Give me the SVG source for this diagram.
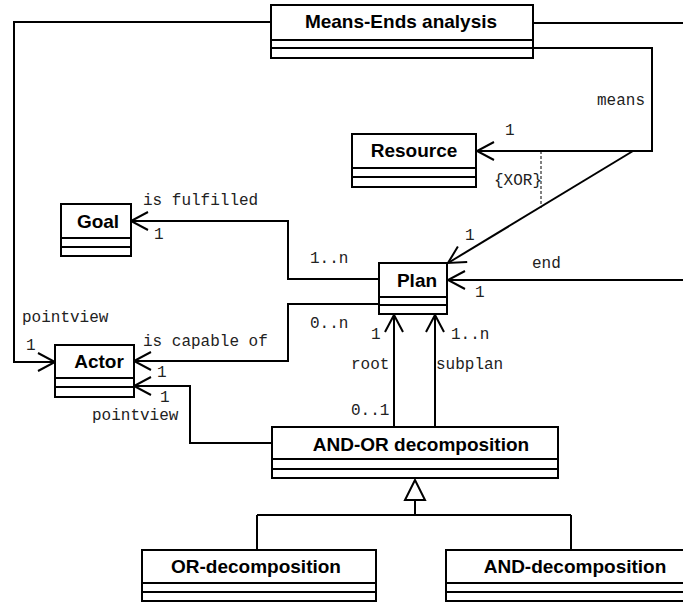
<svg xmlns="http://www.w3.org/2000/svg" width="683" height="602" viewBox="0 0 683 602">
<style>
.box{fill:#fff;stroke:#000;stroke-width:2}
.sep{stroke:#000;stroke-width:2}
.name{font-family:"Liberation Sans",Arial,sans-serif;font-weight:bold;font-size:19px;fill:#000;text-anchor:middle}
.lbl{font-family:"Liberation Mono","Courier New",monospace;font-size:16px;fill:#222}
.conn{fill:none;stroke:#000;stroke-width:2}
.arr{marker-end:url(#open)}
.dash{fill:none;stroke:#000;stroke-width:1;stroke-dasharray:3,2}
</style>
<defs>
<marker id="open" viewBox="-20 -12 24 24" refX="0" refY="0" markerWidth="24" markerHeight="24" orient="auto" markerUnits="userSpaceOnUse">
<path d="M-17,-9 L0,0 L-17,9" fill="none" stroke="#000" stroke-width="2"/>
</marker>
</defs>
<g id="connectors">
<path class="conn arr" d="M271,22 H14 V362 H55"/>
<path class="conn" d="M533,23 H683"/>
<path class="conn arr" d="M533,48 H652 V151 H477"/>
<path class="conn arr" d="M633,151 L448,263"/>
<path class="dash" d="M541,151 V208"/>
<path class="conn arr" d="M683,280 H448"/>
<path class="conn arr" d="M379,279 H288 V221 H131"/>
<path class="conn arr" d="M379,304 H288 V361 H134"/>
<path class="conn arr" d="M394,427 V315"/>
<path class="conn arr" d="M435,427 V315"/>
<path class="conn arr" d="M272,443 H190 V386 H134"/>
<path class="conn" d="M415,500 V515 M257,515 H571 M257,515 V550 M571,515 V550"/>
<polygon points="415,480 405,500 425,500" fill="#fff" stroke="#000" stroke-width="2"/>
<text class="lbl" x="597" y="105">means</text>
<text class="lbl" x="505" y="135">1</text>
<text class="lbl" x="494" y="185">{XOR}</text>
<text class="lbl" x="143" y="205">is fulfilled</text>
<text class="lbl" x="154" y="239">1</text>
<text class="lbl" x="310" y="263">1..n</text>
<text class="lbl" x="465" y="240">1</text>
<text class="lbl" x="532" y="268">end</text>
<text class="lbl" x="475" y="297">1</text>
<text class="lbl" x="310" y="328">0..n</text>
<text class="lbl" x="371" y="339">1</text>
<text class="lbl" x="451" y="339">1..n</text>
<text class="lbl" x="351" y="369">root</text>
<text class="lbl" x="436" y="369">subplan</text>
<text class="lbl" x="351" y="415">0..1</text>
<text class="lbl" x="22" y="322">pointview</text>
<text class="lbl" x="26" y="350">1</text>
<text class="lbl" x="143" y="346">is capable of</text>
<text class="lbl" x="157" y="377">1</text>
<text class="lbl" x="160" y="402">1</text>
<text class="lbl" x="92" y="420">pointview</text>
</g>
<g id="means-ends">
<rect class="box" x="271" y="5" width="262" height="53"/>
<path class="sep" d="M271,40 H533 M271,48 H533"/>
<text class="name" x="401" y="28">Means-Ends analysis</text>
</g>
<g id="resource">
<rect class="box" x="352" y="134" width="124" height="53"/>
<path class="sep" d="M352,168 H476 M352,177 H476"/>
<text class="name" x="414" y="157">Resource</text>
</g>
<g id="goal">
<rect class="box" x="61" y="204" width="70" height="52"/>
<path class="sep" d="M61,238 H131 M61,247 H131"/>
<text class="name" x="98" y="228">Goal</text>
</g>
<g id="plan">
<rect class="box" x="379" y="263" width="68" height="51"/>
<path class="sep" d="M379,297 H447 M379,305 H447"/>
<text class="name" x="417" y="287">Plan</text>
</g>
<g id="actor">
<rect class="box" x="55" y="345" width="79" height="52"/>
<path class="sep" d="M55,378 H134 M55,387 H134"/>
<text class="name" x="99" y="368">Actor</text>
</g>
<g id="and-or">
<rect class="box" x="272" y="427" width="286" height="51"/>
<path class="sep" d="M272,459 H558 M272,469 H558"/>
<text class="name" x="421" y="451">AND-OR decomposition</text>
</g>
<g id="or-decomposition">
<rect class="box" x="142" y="550" width="234" height="51"/>
<path class="sep" d="M142,583 H376 M142,592 H376"/>
<text class="name" x="256" y="573">OR-decomposition</text>
</g>
<g id="and-decomposition">
<rect class="box" x="446" y="550" width="260" height="51"/>
<path class="sep" d="M446,583 H706 M446,592 H706"/>
<text class="name" x="575" y="573">AND-decomposition</text>
</g>
</svg>
